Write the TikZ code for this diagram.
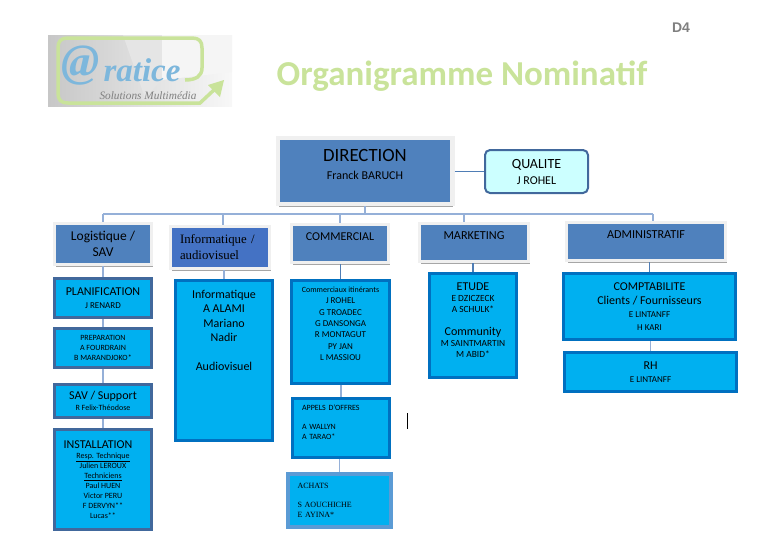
\documentclass[tikz,border=0pt]{standalone}
\usepackage{fontspec}
\setmainfont{Carlito}
\newfontfamily\serifcap{Liberation Serif}
\newfontfamily\arialcap{Liberation Sans}
\usepackage{tikz}
\usetikzlibrary{calc, shadows}
\newcommand{\szDir}{\fontsize{18.7}{19}\selectfont}
\newcommand{\szBig}{\fontsize{12}{14.5}\selectfont}
\newcommand{\szMid}{\fontsize{9}{11.4}\selectfont}
\newcommand{\szLow}{\fontsize{8}{10}\selectfont}
\definecolor{headblue}{HTML}{4F81BD}
\definecolor{infoblue}{HTML}{4472C4}
\definecolor{cellblue}{HTML}{00B0F0}
\definecolor{paleblue}{HTML}{CCFFFF}
\definecolor{edgeslate}{HTML}{41689C}
\definecolor{edgeblue}{HTML}{0070C0}
\definecolor{edgepale}{HTML}{5B9BD5}
\definecolor{linkpale}{HTML}{95B0D8}
\definecolor{linkdark}{HTML}{4F7DB5}
\definecolor{logogreen}{HTML}{C9E39A}
\definecolor{logoblue}{HTML}{7DB7DC}
\tikzset{
  headbox/.style={draw=black!6, fill=headblue, line width=3.5pt, align=center, inner sep=0pt, font=\szBig,
    drop shadow={shadow xshift=1pt, shadow yshift=-2.5pt, fill=black!35, opacity=1}},
  cellbox/.style={draw=edgeslate, fill=cellblue, line width=3pt, align=center, inner sep=0pt, font=\szLow},
  itembox/.style={cellbox, draw=edgeblue},
  link/.style={draw=linkpale, line width=1.2pt},
  darklink/.style={draw=linkdark, line width=1.1pt},
}
\begin{document}
\begin{tikzpicture}[x=1pt, y=-1pt]
  \useasboundingbox (0,0) rectangle (765,558);
  % Logo
  \shade[left color=black!22, right color=black!3] (48,35) rectangle (232,106);
  \fill[black!10] (123,35) -- (162,35) -- (162,80) -- (145,98) -- cycle;
  \fill[black!4] (162,35) -- (232,35) -- (232,72) -- (162,80) -- cycle;
  \draw[logogreen, line width=3.5pt] (185,80) .. controls (196,80) and (202,76) .. (202,68) -- (202,48)
    .. controls (202,41) and (199,38) .. (192,38) -- (68,38) .. controls (61,38) and (58,41) .. (58,48)
    -- (58,93) .. controls (58,100) and (61,103) .. (68,103) -- (200,103) -- (216,88);
  \fill[logogreen] (224,80) -- (208,85) -- (220,97) -- cycle;
  \node[text=logoblue, font=\serifcap\bfseries\itshape\fontsize{46}{46}\selectfont] (logoat) at (81,66) {@};
  \node[text=logoblue, font=\serifcap\bfseries\itshape\fontsize{33}{33}\selectfont] (logoname) at (142,70) {ratice};
  \node[text=black!50, font=\serifcap\itshape\fontsize{11.3}{12}\selectfont] (logotag) at (148,96) {Solutions Multimédia};
  % Title
  \node[text=logogreen, font=\bfseries\fontsize{35}{38}\selectfont] (title) at (462,76) {Organigramme Nominatif};
  \node[text=black!50, font=\arialcap\bfseries\fontsize{14}{15}\selectfont] (sheet) at (681,28) {D4};
  % Top row
  \node[headbox, draw=black!6, line width=4.5pt, drop shadow={opacity=0}, minimum width=174.5pt, minimum height=66pt] (direction) at (365,171)
    {{\szDir DIRECTION}\\[3pt]{\fontsize{12}{12}\selectfont Franck BARUCH}\\[-1pt]\mbox{}};
  \node[draw=edgeslate, fill=paleblue, line width=2pt, rounded corners=5pt, align=center, inner sep=0pt, font=\fontsize{12}{16}\selectfont,
    minimum width=103pt, minimum height=43pt] (qualite) at (536.5,171.5)
    {{\fontsize{14}{14}\selectfont QUALITE}\\J ROHEL};
  % Head row
  \node[headbox, minimum width=97pt, minimum height=41pt, font=\fontsize{13.5}{16}\selectfont] (logistique) at (103,244) {Logistique /\\SAV};
  \node[headbox, fill=infoblue, minimum width=99pt, minimum height=42pt, text width=80pt, align=left, font=\serifcap\fontsize{12.8}{16}\selectfont] (informatique) at (220,247.5) {Informatique /\\audiovisuel};
  \node[headbox, minimum width=97pt, minimum height=38pt, font=\fontsize{12}{13}\selectfont] (commercial) at (340,243.5) {COMMERCIAL\\\mbox{}};
  \node[headbox, minimum width=109pt, minimum height=38pt, font=\fontsize{12.2}{13}\selectfont] (marketing) at (474,242.5) {MARKETING\\\mbox{}};
  \node[headbox, minimum width=159pt, minimum height=38pt, font=\fontsize{12.2}{13}\selectfont] (administratif) at (646,241.5) {ADMINISTRATIF\\\mbox{}};
  % Logistique column
  \node[cellbox, minimum width=97pt, minimum height=39pt, font=\fontsize{10}{13}\selectfont] (planification) at (103,298)
    {{\szBig PLANIFICATION}\\{\fontsize{9}{10}\selectfont J RENARD}};
  \node[cellbox, minimum width=97pt, minimum height=39pt, font=\fontsize{8}{9.6}\selectfont] (preparation) at (103,348)
    {PREPARATION\\A FOURDRAIN\\B MARANDJOKO*};
  \node[cellbox, minimum width=97pt, minimum height=33pt, font=\fontsize{10}{11}\selectfont] (savsupport) at (103,401)
    {{\szBig SAV / Support}\\{\szLow R Felix-Théodose}};
  \node[cellbox, minimum width=97pt, minimum height=100pt] (installation) at (103,479.5)
    {{\szBig INSTALLATION\hspace*{10pt}}\\\underline{Resp. Technique}\\Julien LEROUX\\\underline{Techniciens}\\Paul HUEN\\Victor PERU\\F DERVYN**\\Lucas**};
  % Informatique column
  \node[itembox, minimum width=97pt, minimum height=160pt, font=\szBig] (informatiquecell) at (224,360.5)
    {Informatique\\A ALAMI\\Mariano\\Nadir\\[14.5pt]Audiovisuel\\[46pt]\mbox{}};
  % Commercial column
  \node[itembox, minimum width=98pt, minimum height=103pt, font=\szMid] (itinerants) at (340.5,332)
    {{\szLow Commerciaux itinérants}\\J ROHEL\\G TROADEC\\G DANSONGA\\R MONTAGUT\\PY JAN\\L MASSIOU\\[5pt]\mbox{}};
  \node[itembox, minimum width=97pt, minimum height=59pt, text width=78pt, align=left] (appels) at (341,428)
    {APPELS D’OFFRES\\[9pt]A WALLYN\\A TARAO*\\[2pt]\mbox{}};
  \node[itembox, draw=edgepale, line width=4pt, minimum width=103pt, minimum height=53pt, text width=84pt, align=left, font=\serifcap\fontsize{8}{9.5}\selectfont] (achats) at (339.5,500.5)
    {ACHATS\\[9.5pt]S AOUCHICHE\\E AYINA*};
  % Marketing column
  \node[itembox, minimum width=87pt, minimum height=104pt, font=\fontsize{9.4}{11}\selectfont] (etude) at (473,325.5)
    {{\szBig ETUDE}\\E DZICZECK\\A SCHULK*\\[12pt]{\szBig Community}\\M SAINTMARTIN\\M ABID*\\[-1pt]\mbox{}};
  % Administratif column
  \node[itembox, minimum width=172pt, minimum height=66pt, font=\fontsize{9}{13}\selectfont] (comptabilite) at (649.5,306.5)
    {{\szBig COMPTABILITE}\\[1pt]{\szBig Clients / Fournisseurs}\\E LINTANFF\\H KARI};
  \node[itembox, minimum width=172pt, minimum height=39pt, font=\fontsize{9}{13}\selectfont] (rh) at (650.5,372)
    {{\szBig RH}\\E LINTANFF};
  % Bus and stubs
  \coordinate (busdirection) at (365,214);
  \draw[link] (direction.south) -- (busdirection);
  \draw[darklink] (direction.east |- qualite.west) -- (qualite.west);
  \coordinate (busstart) at (103,214);
  \coordinate (busend) at (653,214);
  \draw[link] (busstart) -- (busend);
  \foreach \head/\x in {logistique/103, informatique/223, commercial/340, marketing/464, administratif/653} {
    \coordinate (bus\head) at (\x,214);
    \draw[link] (bus\head) -- (bus\head |- \head.north);
  }
  % Column links
  \foreach \upper/\lower in {logistique/planification, planification/preparation, preparation/savsupport, savsupport/installation, informatique/informatiquecell, itinerants/appels, comptabilite/rh, appels/achats} {
    \draw[link] (\lower.north) -- (\lower.north |- \upper.south);
  }
  \foreach \upper/\lower in {commercial/itinerants, marketing/etude, administratif/comptabilite} {
    \draw[darklink] (\lower.north) -- (\lower.north |- \upper.south);
  }
  % Text cursor
  \coordinate (cursortop) at (407,413);
  \coordinate (cursorbottom) at (407,429);
  \draw[black, line width=0.8pt] (cursortop) -- (cursorbottom);
\end{tikzpicture}
\end{document}
